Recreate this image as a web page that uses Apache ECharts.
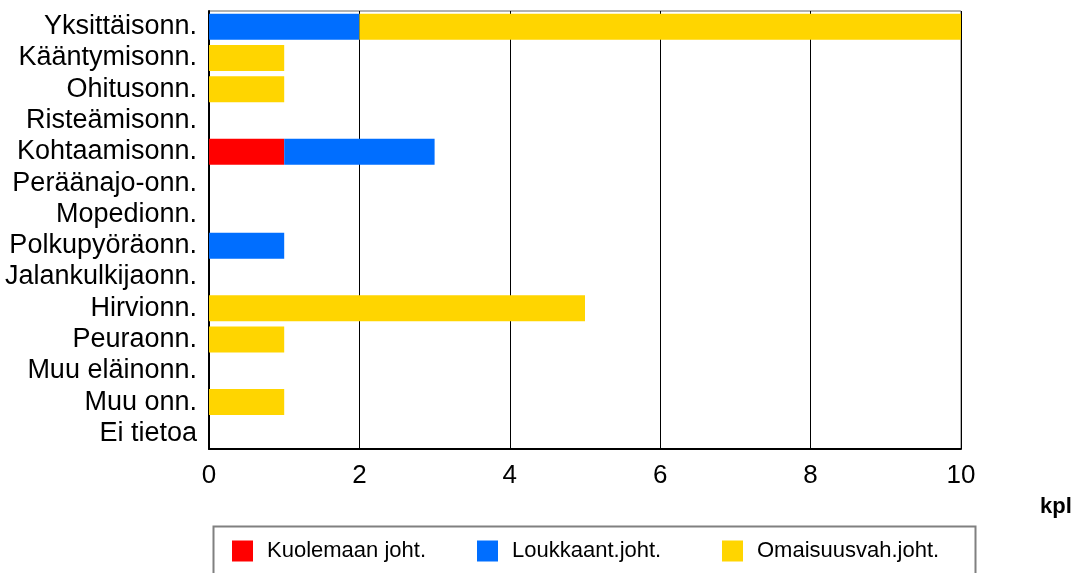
<!DOCTYPE html>
<html>
<head>
<meta charset="utf-8">
<script src="https://cdn.jsdelivr.net/npm/echarts@6/dist/echarts.min.js"></script>
<style>
  html, body { margin: 0; padding: 0; background: #fff; }
  #chart { width: 1086px; height: 573px; }
</style>
</head>
<body>
<div id="chart"></div>
<script>
// onnettomuustyypit ylhäältä alas
const categories = ['Yksittäisonn.', 'Kääntymisonn.', 'Ohitusonn.', 'Risteämisonn.', 'Kohtaamisonn.',
  'Peräänajo-onn.', 'Mopedionn.', 'Polkupyöräonn.', 'Jalankulkijaonn.', 'Hirvionn.',
  'Peuraonn.', 'Muu eläinonn.', 'Muu onn.', 'Ei tietoa'];
const seriesNames = ['Kuolemaan joht.', 'Loukkaant.joht.', 'Omaisuusvah.joht.'];
const kuolemaan = [0, 0, 0, 0, 1, 0, 0, 0, 0, 0, 0, 0, 0, 0];
const loukkaant = [2, 0, 0, 0, 2, 0, 0, 1, 0, 0, 0, 0, 0, 0];
const omaisuus  = [8, 1, 1, 0, 0, 0, 0, 0, 0, 5, 1, 0, 1, 0];
const xTicks = [0, 2, 4, 6, 8, 10];

const colors = ['#ff0000', '#006eff', '#ffd500'];
const font = 'Liberation Sans, Arial, sans-serif';

let myChart = echarts.init(document.getElementById('chart'));

let legendX = [232, 477, 722];
let legends = seriesNames.map(function (name, i) {
  return {
    data: [name],
    left: legendX[i],
    top: 540,
    padding: 0,
    itemWidth: 21,
    itemHeight: 21,
    icon: 'rect',
    selectedMode: false,
    textStyle: { fontFamily: font, fontSize: 22, color: '#000', padding: [0, 0, 0, 9] }
  };
});

let option = {
  backgroundColor: '#fff',
  animation: false,
  color: colors,
  textStyle: { fontFamily: font },
  grid: {
    left: 209,
    right: 125,
    top: 11,
    bottom: 124,
    show: true,
    borderColor: '#666',
    borderWidth: 1
  },
  legend: legends,
  xAxis: {
    type: 'value',
    min: xTicks[0],
    max: xTicks[xTicks.length - 1],
    interval: 2,
    axisLine: { show: true, lineStyle: { color: '#000', width: 2 } },
    axisTick: { show: false },
    axisLabel: { fontFamily: font, fontSize: 26, color: '#000', margin: 14 },
    splitLine: { show: true, lineStyle: { color: '#000', width: 1 } }
  },
  yAxis: {
    type: 'category',
    data: categories,
    inverse: true,
    axisLine: { show: true, lineStyle: { color: '#000', width: 2 } },
    axisTick: { show: false },
    axisLabel: { interval: 0, fontFamily: font, fontSize: 27, color: '#000', margin: 12 }
  },
  series: [
    { name: seriesNames[0], type: 'bar', stack: 'a', barWidth: 26, data: kuolemaan },
    { name: seriesNames[1], type: 'bar', stack: 'a', barWidth: 26, data: loukkaant },
    { name: seriesNames[2], type: 'bar', stack: 'a', barWidth: 26, data: omaisuus }
  ],
  graphic: [
    {
      type: 'rect',
      left: 211,
      top: 524,
      shape: { width: 762, height: 70 },
      style: { fill: 'none', stroke: '#808080', lineWidth: 2 },
      z: -1
    },
    {
      type: 'text',
      left: 1040,
      top: 496,
      style: { text: 'kpl', font: 'bold 22px Liberation Sans, Arial, sans-serif', fill: '#000' }
    }
  ]
};
myChart.setOption(option);
</script>
</body>
</html>
